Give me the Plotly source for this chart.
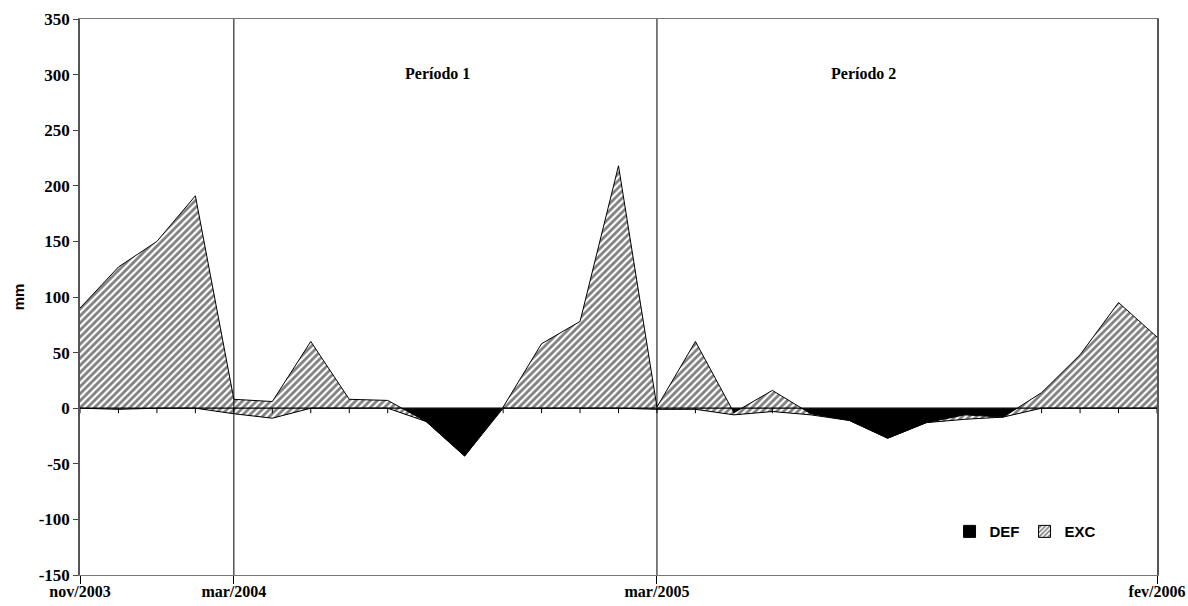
import plotly.graph_objects as go

# ---- data ----
idx = list(range(29))
def_vals = [0, -1, 0, 0, -5, -9, 0, 0, 0, -12, -43, 0, 0, 0, 0, -1,
            -1, -6, -3, -6, -11, -27, -13, -10, -8, 0, 0, 0, 0]
exc_vals = [90, 128, 150, 191, 13, 15, 60, 8, 7, 0, 0, 1, 58, 78, 218, 2,
            61, 2, 19, 1, 0, 0, 0, 4, 0, 14, 48, 95, 64]
tick_pos = [0, 4, 15, 28]
tick_labels = ["nov/2003", "mar/2004", "mar/2005", "fev/2006"]
y_ticks = [-150, -100, -50, 0, 50, 100, 150, 200, 250, 300, 350]
y_tick_labels = ["-150", "-100", "-50", "0", "50", "100", "150", "200", "250", "300", "350"]
period_names = ["Período 1", "Período 2"]

serif = "Liberation Serif"
sans = "Liberation Sans"
hatch = dict(shape="/", fgcolor="black", bgcolor="white", size=5, solidity=0.55)

fig = go.Figure()
fig.add_trace(go.Scatter(
    x=idx, y=def_vals, name="DEF", stackgroup="one", mode="lines",
    line=dict(color="black", width=1), fillcolor="black", showlegend=False))
fig.add_trace(go.Scatter(
    x=idx, y=exc_vals, name="EXC", stackgroup="one", mode="lines",
    line=dict(color="black", width=1), fillcolor="white",
    fillpattern=hatch, showlegend=False))
# legend entries
fig.add_trace(go.Bar(x=[None], y=[None], name="<b>DEF</b>",
                     marker=dict(color="black", line=dict(color="black", width=1))))
fig.add_trace(go.Bar(x=[None], y=[None], name="<b>EXC</b>",
                     marker=dict(color="white", pattern=dict(shape="/", fgcolor="black",
                                                             bgcolor="white", size=4, solidity=0.5),
                                 line=dict(color="black", width=1))))

shapes = []
for p in tick_pos[1:-1]:
    shapes.append(dict(type="line", xref="x", yref="y", x0=p, x1=p,
                       y0=-150, y1=350, line=dict(color="black", width=1)))
for i in idx:
    shapes.append(dict(type="line", xref="x", yref="y", ysizemode="pixel",
                       yanchor=0, x0=i, x1=i, y0=0, y1=-5,
                       line=dict(color="black", width=1)))
shapes.append(dict(type="line", xref="x", yref="y", x0=idx[0], x1=idx[-1],
                   y0=0, y1=0, line=dict(color="black", width=1.2)))

annotations = [
    dict(x=9.3, y=301, xref="x", yref="y", text=f"<b>{period_names[0]}</b>",
         showarrow=False, font=dict(family=serif, size=16, color="black")),
    dict(x=20.36, y=301, xref="x", yref="y", text=f"<b>{period_names[1]}</b>",
         showarrow=False, font=dict(family=serif, size=16, color="black")),
]

fig.update_layout(
    width=1188, height=606,
    margin=dict(l=80, r=31, t=19, b=31),
    paper_bgcolor="white", plot_bgcolor="white",
    showlegend=True,
    legend=dict(orientation="h", x=0.9485, y=0.078, xanchor="right", yanchor="middle",
                font=dict(family=sans, size=15, color="black"),
                bgcolor="rgba(0,0,0,0)", itemwidth=30, traceorder="normal"),
    shapes=shapes, annotations=annotations,
    xaxis=dict(range=[idx[0], idx[-1]], tickvals=tick_pos,
               ticktext=[f"<b>{t}</b>" for t in tick_labels],
               ticks="outside", ticklen=8, tickcolor="black", automargin=False,
               ticklabelstandoff=-6,
               showline=True, linecolor="#777", linewidth=1, mirror=True,
               showgrid=False, zeroline=False,
               tickfont=dict(family=serif, size=16, color="black")),
    yaxis=dict(range=[-150, 350], tickvals=y_ticks,
               ticktext=[f"<b>{t}</b>" for t in y_tick_labels],
               ticks="outside", ticklen=5,
               tickcolor="#444", showline=True, linecolor="#555", linewidth=1.5,
               mirror=True, showgrid=False, zeroline=False, automargin=False,
               tickfont=dict(family=serif, size=17, color="black"),
               title=dict(text="<b>mm</b>", font=dict(family=sans, size=15, color="black"),
                          standoff=10)),
)

fig.write_html("out.html", config={"displayModeBar": False},
               post_script="document.body.style.margin='0';document.body.style.overflow='hidden';")
